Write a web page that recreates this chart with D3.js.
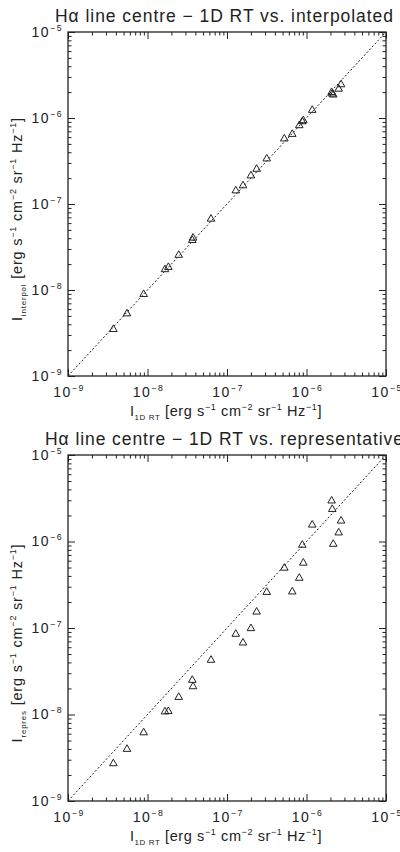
<!DOCTYPE html>
<html>
<head>
<meta charset="utf-8">
<script src="https://cdn.jsdelivr.net/npm/d3@7"></script>
<style>
html,body{margin:0;padding:0;background:#fff;}
svg{display:block;}
text{font-family:"Liberation Sans","DejaVu Sans",sans-serif;fill:#222;}
</style>
</head>
<body>
<svg id="chart" width="400" height="852"></svg>
<script>
// ---- data ----
const intensity1D = [3.72e-9, 5.52e-9, 8.95e-9, 1.66e-8, 1.83e-8, 2.47e-8, 3.66e-8, 3.74e-8, 6.29e-8,
  1.29e-7, 1.59e-7, 2.0e-7, 2.36e-7, 3.16e-7, 5.26e-7, 6.62e-7, 8.11e-7, 8.85e-7, 9.12e-7,
  1.18e-6, 2.07e-6, 2.11e-6, 2.17e-6, 2.54e-6, 2.72e-6];
const intensityInterpol = [3.57e-9, 5.42e-9, 9.1e-9, 1.77e-8, 1.88e-8, 2.6e-8, 3.87e-8, 4.12e-8, 6.84e-8,
  1.46e-7, 1.67e-7, 2.18e-7, 2.6e-7, 3.43e-7, 5.86e-7, 6.62e-7, 8.36e-7, 9.29e-7, 9.55e-7,
  1.26e-6, 2.03e-6, 1.95e-6, 1.9e-6, 2.22e-6, 2.5e-6];
const intensityRepres = [2.77e-9, 4.06e-9, 6.31e-9, 1.10e-8, 1.11e-8, 1.62e-8, 2.55e-8, 2.15e-8, 4.35e-8,
  8.69e-8, 6.89e-8, 1.01e-7, 1.57e-7, 2.65e-7, 5.05e-7, 2.68e-7, 3.86e-7, 9.29e-7, 5.77e-7,
  1.59e-6, 3.02e-6, 2.41e-6, 9.53e-7, 1.29e-6, 1.77e-6];
const axisDomain = [1e-9, 1e-5];
const majorExponents = [-9, -8, -7, -6, -5];
const panelTitles = ["H\u03B1 line centre \u2212 1D RT vs. interpolated",
                     "H\u03B1 line centre \u2212 1D RT vs. representative"];
const ySubscripts = ["interpol", "repres"];
const xSubscript = "1D RT";

// ---- layout ----
const svg = d3.select("#chart");
const panels = [
  {top: 32, bottom: 376, yVals: intensityInterpol, title: panelTitles[0], ySub: ySubscripts[0], titleY: 22, titleLen: 338},
  {top: 455, bottom: 801, yVals: intensityRepres, title: panelTitles[1], ySub: ySubscripts[1], titleY: 445, titleLen: 358}
];
const left = 68, right = 386;
const ink = "#222";

// rich text: parts with optional sup/sub; baseline restored on the following part
function rich(textSel, parts, base) {
  let offset = 0;
  parts.forEach(p => {
    const ts = textSel.append("tspan").text(p.t);
    let target = 0;
    if (p.s === "sup") { ts.attr("font-size", base * 0.62); target = -base * 0.42; }
    else if (p.s === "sub") { ts.attr("font-size", base * 0.55); target = base * 0.25; }
    const dy = target - offset;
    if (dy !== 0) ts.attr("dy", dy);
    offset = target;
  });
}

const minorTicks = [];
for (let e = -9; e < -5; e++) for (let m = 2; m <= 9; m++) minorTicks.push(m * Math.pow(10, e));
const majorTicks = majorExponents.map(e => Math.pow(10, e));

panels.forEach(p => {
  const x = d3.scaleLog().domain(axisDomain).range([left, right]);
  const y = d3.scaleLog().domain(axisDomain).range([p.bottom, p.top]);
  const g = svg.append("g");

  // axes (ticks inward on all four sides)
  const axes = [
    {a: d3.axisBottom(x), tr: `translate(0,${p.bottom})`},
    {a: d3.axisTop(x), tr: `translate(0,${p.top})`},
    {a: d3.axisLeft(y), tr: `translate(${left},0)`},
    {a: d3.axisRight(y), tr: `translate(${right},0)`}
  ];
  axes.forEach(ax => {
    [[minorTicks, 3.5], [majorTicks, 7]].forEach(([vals, len]) => {
      const gg = g.append("g").attr("transform", ax.tr)
        .call(ax.a.tickValues(vals).tickSizeInner(-len).tickSizeOuter(0).tickFormat(""));
      gg.select(".domain").remove();
      gg.selectAll("text").remove();
      gg.selectAll("line").attr("stroke", ink).attr("stroke-width", 1);
    });
  });

  // frame
  g.append("rect").attr("x", left).attr("y", p.top)
    .attr("width", right - left).attr("height", p.bottom - p.top)
    .attr("fill", "none").attr("stroke", ink).attr("stroke-width", 1.3);

  // x tick labels
  majorExponents.forEach(e => {
    const t = g.append("text").attr("x", x(Math.pow(10, e)) + 1).attr("y", p.bottom + 21)
      .attr("text-anchor", "middle").attr("font-size", 14).attr("letter-spacing", 1.5);
    rich(t, [{t: "10"}, {t: "\u2212" + (-e), s: "sup"}], 14);
  });
  // y tick labels
  majorExponents.forEach(e => {
    const t = g.append("text").attr("x", left - 5).attr("y", y(Math.pow(10, e)) + 4.5)
      .attr("text-anchor", "end").attr("font-size", 14).attr("letter-spacing", 1.5);
    rich(t, [{t: "10"}, {t: "\u2212" + (-e), s: "sup"}], 14);
  });

  // identity line
  g.append("line")
    .attr("x1", x(axisDomain[0])).attr("y1", y(axisDomain[0]))
    .attr("x2", x(axisDomain[1])).attr("y2", y(axisDomain[1]))
    .attr("stroke", ink).attr("stroke-width", 1).attr("stroke-dasharray", "2,2");

  // points
  const tri = "M0,-3.6L3.8,3L-3.8,3Z";
  g.selectAll("path.pt").data(intensity1D.map((v, i) => [v, p.yVals[i]]))
    .enter().append("path").attr("class", "pt")
    .attr("d", tri)
    .attr("transform", d => `translate(${x(d[0])},${y(d[1])})`)
    .attr("fill", "none").attr("stroke", ink).attr("stroke-width", 1);

  // title
  svg.append("text").attr("x", 224).attr("y", p.titleY).attr("text-anchor", "middle")
    .attr("font-size", 17.5).attr("textLength", p.titleLen).attr("lengthAdjust", "spacing")
    .text(p.title);

  // x label
  const xl = svg.append("text").attr("x", 226).attr("y", p.bottom + 40).attr("text-anchor", "middle")
    .attr("font-size", 14.5).attr("letter-spacing", 0.6);
  rich(xl, [{t: "I"}, {t: xSubscript, s: "sub"}, {t: " [erg s"}, {t: "\u22121", s: "sup"},
            {t: " cm"}, {t: "\u22122", s: "sup"}, {t: " sr"}, {t: "\u22121", s: "sup"},
            {t: " Hz"}, {t: "\u22121", s: "sup"}, {t: "]"}], 14.5);

  // y label
  const cy = (p.top + p.bottom) / 2 + 15;
  const yl = svg.append("text").attr("transform", `translate(22,${cy}) rotate(-90)`)
    .attr("text-anchor", "middle").attr("font-size", 14.5).attr("letter-spacing", 0.8);
  rich(yl, [{t: "I"}, {t: p.ySub, s: "sub"}, {t: " [erg s"}, {t: "\u22121", s: "sup"},
            {t: " cm"}, {t: "\u22122", s: "sup"}, {t: " sr"}, {t: "\u22121", s: "sup"},
            {t: " Hz"}, {t: "\u22121", s: "sup"}, {t: "]"}], 14.5);
});
</script>
</body>
</html>
